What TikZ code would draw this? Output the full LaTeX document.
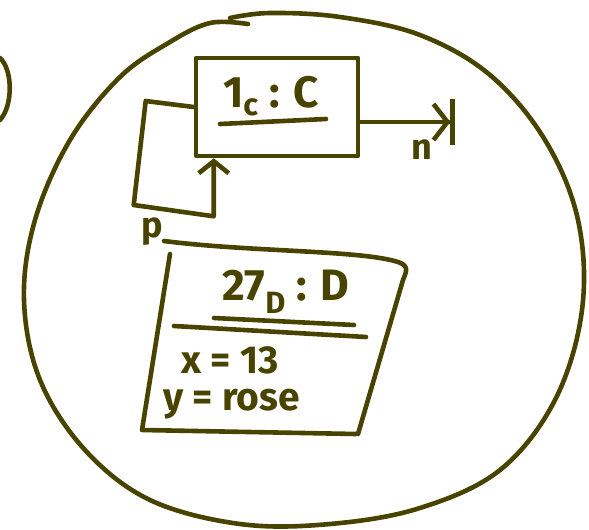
\documentclass[tikz,border=0pt]{standalone}
\usepackage{fontspec}
\setmainfont{Fira Sans}
\usepackage{tikz}
\usetikzlibrary{calc,arrows.meta}
\definecolor{Ink}{RGB}{72,68,0}

\begin{document}
\begin{tikzpicture}[
			x=1pt,y=-1pt,
			ink/.style={draw=Ink,line width=4.6pt,line cap=round,line join=round},
			link/.style={ink,-{Straight Barb[length=12pt,width=30pt]}},
			nil/.style={ink,-{Straight Barb[length=14pt,width=36pt]Bar[width=46pt]}},
			obj/.style={ink,minimum width=162pt,minimum height=98pt,inner sep=0pt},
			title/.style={text=Ink,font=\fontsize{44}{46}\selectfont\bfseries},
			attr/.style={text=Ink,font=\fontsize{39}{42}\selectfont\bfseries,anchor=west},
			lab/.style={text=Ink,font=\fontsize{36}{38}\selectfont\bfseries}]
			\useasboundingbox (0,0) rectangle (589,530);
			\draw[ink] plot[smooth,tension=0.6] coordinates {(248,24) (210,23) (170,42) (120,77)
				(70,140) (35,220) (24,300) (40,380) (85,450) (150,500) (240,524) (330,524)
				(420,508) (500,470) (555,400) (582,310) (578,220) (545,140) (490,75)
				(420,35) (340,17) (270,13) (230,18)};
			\draw[ink] (0,58) .. controls (13,70) and (13,106) .. (0,120);
			\node[obj] (c) at (277,107) {};
			\node[title] (ct) at (271,96) {1\textsubscript{c} : C};
			\draw[ink] (220,124) -- (326,119);
			\draw[link] (c.west) -- ++(-48,-6) -- ++(-12,104) -- ($(c.south west)+(20,58)$)
				-- ([xshift=20pt]c.south west);
			\node[lab] (lp) at (152,232) {p};
			\coordinate (end) at (455,122);
			\draw[nil] ([yshift=-15pt]c.east) -- (end);
			\node[lab] (ln) at (422,150) {n};
			\draw[ink] (164,241) .. controls (250,252) and (360,250) .. (398,262)
				.. controls (410,266) and (406,272) .. (403,280) -- (358,434);
			\draw[ink] (170,254) -- (142,430) -- (356,434);
			\draw[ink] (174,326) -- (366,337);
			\node[title] (dt) at (286,292) {27\textsubscript{D} : D};
			\draw[ink] (214,318) -- (354,325);
			\node[attr] (dx) at (178,360) {x = 13};
			\node[attr] (dy) at (160,404) {y = rose};
		\end{tikzpicture}
\end{document}
